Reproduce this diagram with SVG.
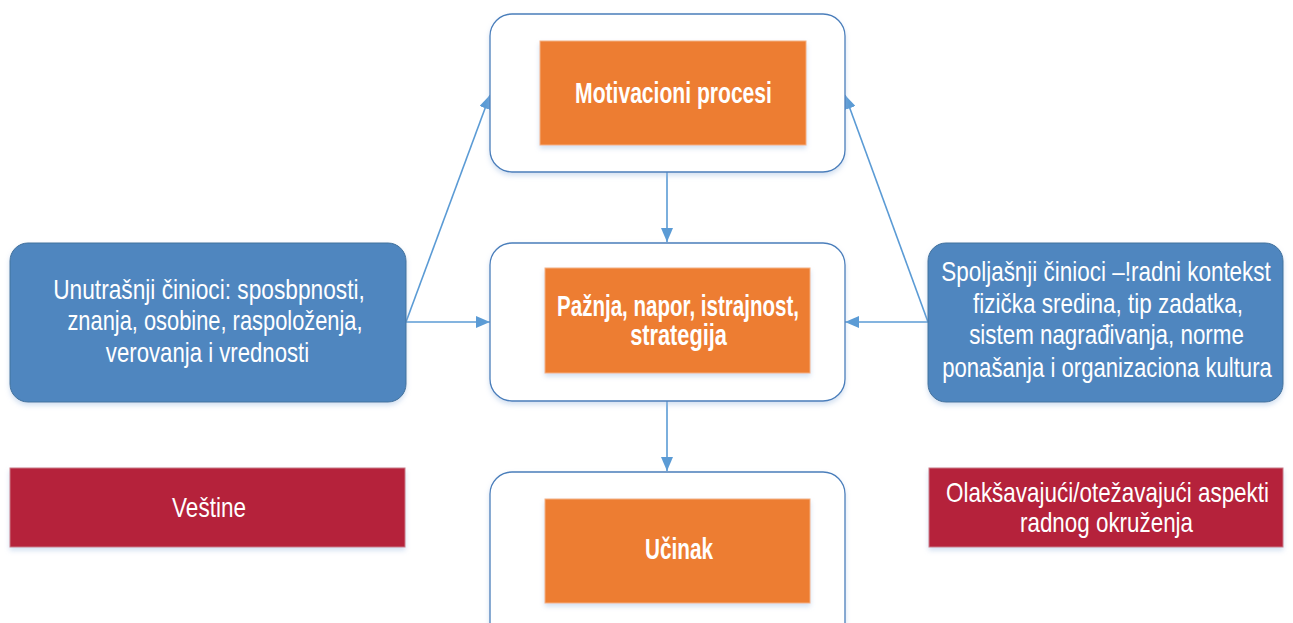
<svg xmlns="http://www.w3.org/2000/svg" width="1293" height="623" viewBox="0 0 1293 623">
  <style>
    .frame { fill: #ffffff; stroke: #4a7ebb; stroke-width: 1.3; }
    .core { fill: #ed7d31; stroke: #f4b183; stroke-width: 1; }
    .factor { fill: #4f86bf; stroke: #41719c; stroke-width: 1; }
    .aspect { fill: #b5213b; stroke: #c97a86; stroke-width: 1; }
    .lbl { font-family: "Liberation Sans", Arial, sans-serif; fill: #ffffff; text-anchor: middle; }
    .norm { font-size: 27px; }
    .bold { font-size: 29px; font-weight: bold; }
    .wire { fill: none; stroke: #5b9bd5; stroke-width: 1.6; }
  </style>
  <defs>
    <marker id="head" viewBox="0 0 14 12" refX="14" refY="6" markerWidth="14" markerHeight="12" markerUnits="userSpaceOnUse" orient="auto">
      <path d="M0,0 L14,6 L0,12 Z" fill="#5b9bd5"/>
    </marker>
    <filter id="soft" x="-10%" y="-10%" width="120%" height="130%">
      <feDropShadow dx="0" dy="3" stdDeviation="2.5" flood-color="#9dbbe0" flood-opacity="0.45"/>
    </filter>
  </defs>

  <rect width="1293" height="623" fill="#ffffff"/>

  <!-- connectors -->
  <g id="connectors">
    <path class="wire" d="M667,172 L667,242" marker-end="url(#head)"/>
    <path class="wire" d="M667,401 L667,471" marker-end="url(#head)"/>
    <path class="wire" d="M406,322 L490,322" marker-end="url(#head)"/>
    <path class="wire" d="M406,322 L490,95" marker-end="url(#head)"/>
    <path class="wire" d="M928,322 L845,322" marker-end="url(#head)"/>
    <path class="wire" d="M928,322 L845,95" marker-end="url(#head)"/>
  </g>

  <!-- labels use a condensed face: regular sans squeezed horizontally -->

  <!-- motivation stage -->
  <g id="motivation">
    <rect class="frame" x="490" y="14" width="355" height="158" rx="22" filter="url(#soft)"/>
    <rect class="core" x="540" y="41" width="266" height="104" filter="url(#soft)"/>
    <text class="lbl bold" transform="translate(673.5 103) scale(0.82 1)" textLength="240" lengthAdjust="spacingAndGlyphs">Motivacioni procesi</text>
  </g>

  <!-- effort stage -->
  <g id="effort">
    <rect class="frame" x="490" y="243" width="355" height="158" rx="22" filter="url(#soft)"/>
    <rect class="core" x="545" y="268" width="265" height="105" filter="url(#soft)"/>
    <text class="lbl bold" transform="translate(678 316) scale(0.82 1)" textLength="295" lengthAdjust="spacingAndGlyphs">Pažnja, napor, istrajnost,</text>
    <text class="lbl bold" transform="translate(678.5 345) scale(0.82 1)" textLength="118" lengthAdjust="spacingAndGlyphs">strategija</text>
  </g>

  <!-- performance stage -->
  <g id="performance">
    <rect class="frame" x="490" y="472" width="355" height="175" rx="22" filter="url(#soft)"/>
    <rect class="core" x="545" y="499" width="265" height="104" filter="url(#soft)"/>
    <text class="lbl bold" transform="translate(679 559) scale(0.82 1)" textLength="83" lengthAdjust="spacingAndGlyphs">Učinak</text>
  </g>

  <!-- internal factors -->
  <g id="internal">
    <rect class="factor" x="10" y="243" width="396" height="159" rx="18" filter="url(#soft)"/>
    <text class="lbl norm" transform="translate(209 299) scale(0.82 1)" textLength="380" lengthAdjust="spacingAndGlyphs">Unutrašnji činioci: sposbpnosti,</text>
    <text class="lbl norm" transform="translate(215 330) scale(0.82 1)" textLength="360" lengthAdjust="spacingAndGlyphs">znanja, osobine, raspoloženja,</text>
    <text class="lbl norm" transform="translate(207.5 362) scale(0.82 1)" textLength="248" lengthAdjust="spacingAndGlyphs">verovanja i vrednosti</text>
  </g>

  <!-- external factors -->
  <g id="external">
    <rect class="factor" x="928" y="243" width="355" height="159" rx="18" filter="url(#soft)"/>
    <text class="lbl norm" transform="translate(1106 281) scale(0.82 1)" textLength="402" lengthAdjust="spacingAndGlyphs">Spoljašnji činioci –!radni kontekst</text>
    <text class="lbl norm" transform="translate(1108 313) scale(0.82 1)" textLength="329" lengthAdjust="spacingAndGlyphs">fizička sredina, tip zadatka,</text>
    <text class="lbl norm" transform="translate(1106.5 344) scale(0.82 1)" textLength="335" lengthAdjust="spacingAndGlyphs">sistem nagrađivanja, norme</text>
    <text class="lbl norm" transform="translate(1107 377) scale(0.82 1)" textLength="402" lengthAdjust="spacingAndGlyphs">ponašanja i organizaciona kultura</text>
  </g>

  <!-- skills -->
  <g id="skills">
    <rect class="aspect" x="10" y="468" width="395" height="79" filter="url(#soft)"/>
    <text class="lbl norm" transform="translate(209 517) scale(0.82 1)" textLength="90" lengthAdjust="spacingAndGlyphs">Veštine</text>
  </g>

  <!-- work environment -->
  <g id="environment">
    <rect class="aspect" x="929" y="468" width="354" height="79" filter="url(#soft)"/>
    <text class="lbl norm" transform="translate(1107.5 502) scale(0.82 1)" textLength="394" lengthAdjust="spacingAndGlyphs">Olakšavajući/otežavajući aspekti</text>
    <text class="lbl norm" transform="translate(1106.5 532) scale(0.82 1)" textLength="211" lengthAdjust="spacingAndGlyphs">radnog okruženja</text>
  </g>
</svg>
